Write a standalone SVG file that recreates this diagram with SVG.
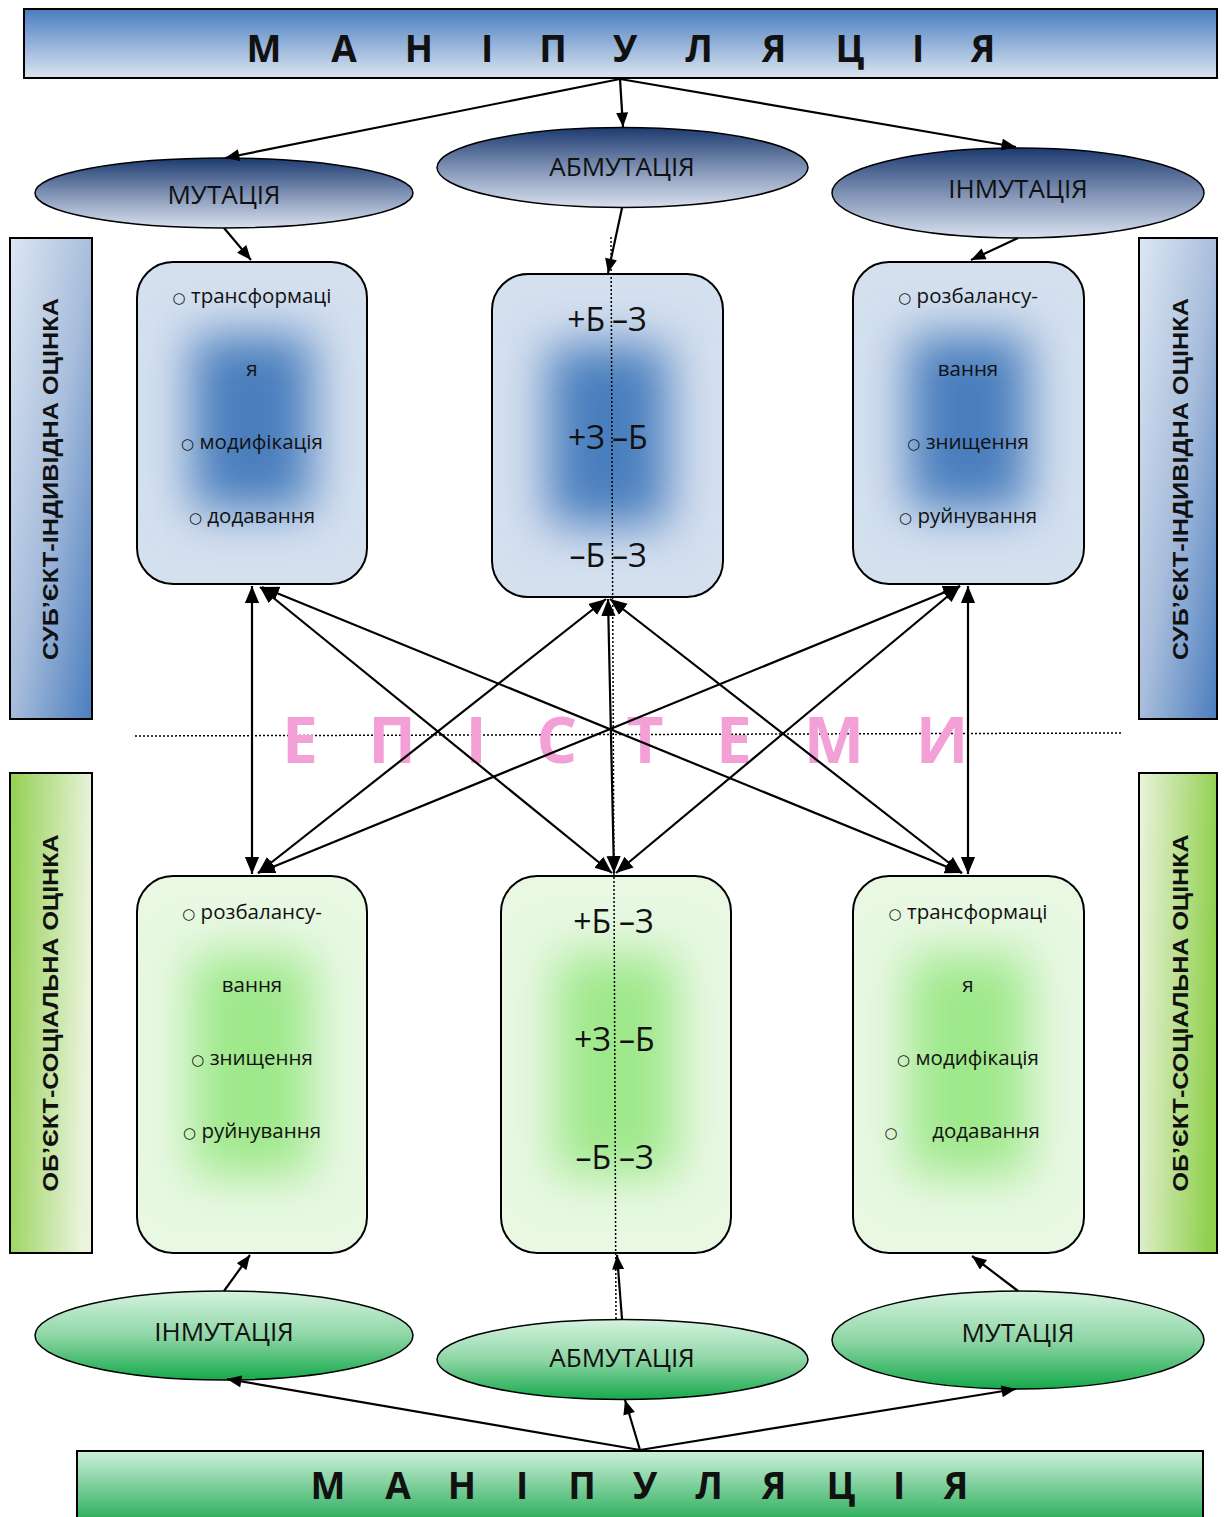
<svg xmlns="http://www.w3.org/2000/svg" width="1226" height="1517" viewBox="0 0 1226 1517">
<style>
.lbl{font-family:"Open Sans","Noto Sans","DejaVu Sans",sans-serif;font-size:26px;fill:#111;text-anchor:middle}
.ban{font-family:"Open Sans","Noto Sans","DejaVu Sans",sans-serif;font-size:37px;font-weight:bold;fill:#111;text-anchor:middle}
.itm{font-family:"Open Sans","Noto Sans","DejaVu Sans",sans-serif;font-size:20.5px;fill:#111;text-anchor:middle}
.bul{font-family:"DejaVu Sans",sans-serif;font-size:15px}
.pm{font-family:"Open Sans","Noto Sans","DejaVu Sans",sans-serif;font-size:32px;fill:#111}
.side{font-family:"Liberation Sans","Arial",sans-serif;font-size:22px;font-weight:bold;fill:#111;text-anchor:middle}
.epi{font-family:"Open Sans","Noto Sans","DejaVu Sans",sans-serif;font-size:64px;font-weight:bold;fill:#f2a0d6;text-anchor:middle}
.box{stroke:#000;stroke-width:2}
.ell{stroke:#000;stroke-width:1.5}
.edge{stroke:#000;stroke-width:2.2;fill:none}
.dot{stroke:#000;stroke-width:1.5;stroke-dasharray:2 2;fill:none}
</style>
<defs>
<linearGradient id="gBanTop" x1="0" y1="0" x2="0" y2="1"><stop offset="0" stop-color="#4a7dbf"/><stop offset="1" stop-color="#dbe5f1"/></linearGradient>
<linearGradient id="gBanBot" x1="0" y1="0" x2="0" y2="1"><stop offset="0" stop-color="#cdf0db"/><stop offset="1" stop-color="#13a447"/></linearGradient>
<linearGradient id="gEllTop" x1="0" y1="0" x2="0" y2="1"><stop offset="0" stop-color="#1c3a70"/><stop offset="0.5" stop-color="#7e91b3"/><stop offset="1" stop-color="#d8e0ee"/></linearGradient>
<linearGradient id="gEllBot" x1="0" y1="0" x2="0" y2="1"><stop offset="0" stop-color="#d4f3df"/><stop offset="0.5" stop-color="#8fd6a6"/><stop offset="1" stop-color="#15a94b"/></linearGradient>
<linearGradient id="gSideBlue" x1="0" y1="0" x2="1" y2="1"><stop offset="0" stop-color="#dde7f3"/><stop offset="0.5" stop-color="#a9bedc"/><stop offset="1" stop-color="#4a7dbe"/></linearGradient>
<linearGradient id="gSideGreenL" x1="0" y1="0" x2="1" y2="0.15"><stop offset="0" stop-color="#92d050"/><stop offset="1" stop-color="#eaf3dc"/></linearGradient>
<linearGradient id="gSideGreenR" x1="0" y1="0" x2="1" y2="0.15"><stop offset="0" stop-color="#eaf3dc"/><stop offset="1" stop-color="#92d050"/></linearGradient>
<filter id="blur" x="-100%" y="-100%" width="300%" height="300%"><feGaussianBlur stdDeviation="24"/></filter>
<clipPath id="cUL"><rect x="137" y="262" width="230" height="322" rx="36"/></clipPath>
<clipPath id="cUM"><rect x="492" y="274" width="231" height="323" rx="36"/></clipPath>
<clipPath id="cUR"><rect x="853" y="262" width="231" height="322" rx="36"/></clipPath>
<clipPath id="cLL"><rect x="137" y="876" width="230" height="377" rx="36"/></clipPath>
<clipPath id="cLM"><rect x="501" y="876" width="230" height="377" rx="36"/></clipPath>
<clipPath id="cLR"><rect x="853" y="876" width="231" height="377" rx="36"/></clipPath>
<marker id="ah" viewBox="0 0 12 10" refX="12" refY="5" markerWidth="15" markerHeight="12" markerUnits="userSpaceOnUse" orient="auto-start-reverse"><path d="M0,0 L12,5 L0,10 z" fill="#000"/></marker>
<marker id="ah2" viewBox="0 0 12 10" refX="12" refY="5" markerWidth="17" markerHeight="16" markerUnits="userSpaceOnUse" orient="auto-start-reverse"><path d="M0,0 L12,5 L0,10 z" fill="#000"/></marker>
</defs>
<rect width="1226" height="1517" fill="#fff"/>

<!-- side labels -->
<g id="side-subj-left">
<rect x="10" y="238" width="82" height="481" fill="url(#gSideBlue)" class="box"/>
<text class="side" transform="translate(58,479) rotate(-90)" textLength="362" lengthAdjust="spacingAndGlyphs">СУБ’ЄКТ-ІНДИВІДНА ОЦІНКА</text>
</g>
<g id="side-obj-left">
<rect x="10" y="773" width="82" height="480" fill="url(#gSideGreenL)" class="box"/>
<text class="side" transform="translate(58,1013) rotate(-90)" textLength="357" lengthAdjust="spacingAndGlyphs">ОБ’ЄКТ-СОЦІАЛЬНА ОЦІНКА</text>
</g>
<g id="side-subj-right">
<rect x="1139" y="238" width="78" height="481" fill="url(#gSideBlue)" class="box"/>
<text class="side" transform="translate(1188,479) rotate(-90)" textLength="362" lengthAdjust="spacingAndGlyphs">СУБ’ЄКТ-ІНДИВІДНА ОЦІНКА</text>
</g>
<g id="side-obj-right">
<rect x="1139" y="773" width="78" height="480" fill="url(#gSideGreenR)" class="box"/>
<text class="side" transform="translate(1188,1013) rotate(-90)" textLength="357" lengthAdjust="spacingAndGlyphs">ОБ’ЄКТ-СОЦІАЛЬНА ОЦІНКА</text>
</g>

<!-- banners -->
<g id="banner-top">
<rect x="24" y="9" width="1193" height="69" fill="url(#gBanTop)" class="box"/>
<text class="ban" x="264 344 419 487 553 625 699 774 850 918 983" y="62">МАНІПУЛЯЦІЯ</text>
</g>
<g id="banner-bottom">
<rect x="77" y="1451" width="1126" height="80" fill="url(#gBanBot)" class="box"/>
<text class="ban" x="328 398 462 522 582 645 709 774 841 899 956" y="1499">МАНІПУЛЯЦІЯ</text>
</g>

<!-- ellipses top -->
<g id="ell-top-mut"><ellipse cx="224" cy="193" rx="189" ry="35" fill="url(#gEllTop)" class="ell"/><text class="lbl" x="224" y="204">МУТАЦІЯ</text></g>
<g id="ell-top-abm"><ellipse cx="622.5" cy="167.5" rx="185.5" ry="40" fill="url(#gEllTop)" class="ell"/><text class="lbl" x="622" y="176">АБМУТАЦІЯ</text></g>
<g id="ell-top-inm"><ellipse cx="1018" cy="193" rx="186" ry="45" fill="url(#gEllTop)" class="ell"/><text class="lbl" x="1018" y="198">ІНМУТАЦІЯ</text></g>

<!-- ellipses bottom -->
<g id="ell-bot-inm"><ellipse cx="224" cy="1335.5" rx="189" ry="44.5" fill="url(#gEllBot)" class="ell"/><text class="lbl" x="224" y="1341">ІНМУТАЦІЯ</text></g>
<g id="ell-bot-abm"><ellipse cx="622.5" cy="1359.5" rx="185.5" ry="40" fill="url(#gEllBot)" class="ell"/><text class="lbl" x="622" y="1367">АБМУТАЦІЯ</text></g>
<g id="ell-bot-mut"><ellipse cx="1018" cy="1340" rx="186" ry="49" fill="url(#gEllBot)" class="ell"/><text class="lbl" x="1018" y="1342">МУТАЦІЯ</text></g>

<!-- upper boxes -->
<g id="box-up-left">
<rect x="137" y="262" width="230" height="322" rx="36" fill="#d5e0ef"/>
<rect x="192" y="335" width="120" height="175" fill="#4a7ebd" filter="url(#blur)" clip-path="url(#cUL)"/>
<rect x="137" y="262" width="230" height="322" rx="36" fill="none" class="box"/>
<text class="itm" x="252" y="303"><tspan class="bul">○</tspan> трансформаці</text>
<text class="itm" x="252" y="376">я</text>
<text class="itm" x="252" y="449"><tspan class="bul">○</tspan> модифікація</text>
<text class="itm" x="252" y="523"><tspan class="bul">○</tspan> додавання</text>
</g>
<g id="box-up-mid">
<rect x="492" y="274" width="231" height="323" rx="36" fill="#d5e0ef"/>
<rect x="548" y="345" width="120" height="180" fill="#4a7ebd" filter="url(#blur)" clip-path="url(#cUM)"/>
<rect x="492" y="274" width="231" height="323" rx="36" fill="none" class="box"/>
<text class="pm" x="605" y="331" text-anchor="end">+Б</text><text class="pm" x="612" y="331">–З</text>
<text class="pm" x="605" y="449" text-anchor="end">+З</text><text class="pm" x="612" y="449">–Б</text>
<text class="pm" x="605" y="567" text-anchor="end">–Б</text><text class="pm" x="612" y="567">–З</text>
</g>
<g id="box-up-right">
<rect x="853" y="262" width="231" height="322" rx="36" fill="#d5e0ef"/>
<rect x="908" y="335" width="120" height="175" fill="#4a7ebd" filter="url(#blur)" clip-path="url(#cUR)"/>
<rect x="853" y="262" width="231" height="322" rx="36" fill="none" class="box"/>
<text class="itm" x="968" y="303"><tspan class="bul">○</tspan> розбалансу-</text>
<text class="itm" x="968" y="376">вання</text>
<text class="itm" x="968" y="449"><tspan class="bul">○</tspan> знищення</text>
<text class="itm" x="968" y="523"><tspan class="bul">○</tspan> руйнування</text>
</g>

<!-- lower boxes -->
<g id="box-low-left">
<rect x="137" y="876" width="230" height="377" rx="36" fill="#e8f8e3"/>
<rect x="192" y="955" width="120" height="220" fill="#9ee88a" filter="url(#blur)" clip-path="url(#cLL)"/>
<rect x="137" y="876" width="230" height="377" rx="36" fill="none" class="box"/>
<text class="itm" x="252" y="919"><tspan class="bul">○</tspan> розбалансу-</text>
<text class="itm" x="252" y="992">вання</text>
<text class="itm" x="252" y="1065"><tspan class="bul">○</tspan> знищення</text>
<text class="itm" x="252" y="1138"><tspan class="bul">○</tspan> руйнування</text>
</g>
<g id="box-low-mid">
<rect x="501" y="876" width="230" height="377" rx="36" fill="#e8f8e3"/>
<rect x="556" y="955" width="120" height="220" fill="#9ee88a" filter="url(#blur)" clip-path="url(#cLM)"/>
<rect x="501" y="876" width="230" height="377" rx="36" fill="none" class="box"/>
<text class="pm" x="611" y="933" text-anchor="end">+Б</text><text class="pm" x="619" y="933">–З</text>
<text class="pm" x="611" y="1051" text-anchor="end">+З</text><text class="pm" x="619" y="1051">–Б</text>
<text class="pm" x="611" y="1169" text-anchor="end">–Б</text><text class="pm" x="619" y="1169">–З</text>
</g>
<g id="box-low-right">
<rect x="853" y="876" width="231" height="377" rx="36" fill="#e8f8e3"/>
<rect x="908" y="955" width="120" height="220" fill="#9ee88a" filter="url(#blur)" clip-path="url(#cLR)"/>
<rect x="853" y="876" width="231" height="377" rx="36" fill="none" class="box"/>
<text class="itm" x="968" y="919"><tspan class="bul">○</tspan> трансформаці</text>
<text class="itm" x="968" y="992">я</text>
<text class="itm" x="968" y="1065"><tspan class="bul">○</tspan> модифікація</text>
<text class="itm" x="891" y="1138"><tspan class="bul">○</tspan></text>
<text class="itm" x="986" y="1138">додавання</text>
</g>

<!-- episteme -->
<g id="episteme">
<path class="dot" d="M135,736 L1122,733"/>
<text class="epi" x="300 392 476 557 645 734 834 942" y="763">ЕПІСТЕМИ</text>
</g>

<!-- connectors -->
<g id="connectors">
<path class="dot" d="M611,237 L616,1320"/>
<path class="edge" marker-end="url(#ah)" d="M620,79 L225,158"/>
<path class="edge" marker-end="url(#ah)" d="M620,79 L623,127"/>
<path class="edge" marker-end="url(#ah)" d="M620,79 L1016,147"/>
<path class="edge" marker-end="url(#ah)" d="M224,228 L251,260"/>
<path class="edge" marker-end="url(#ah)" d="M622,208 L608,273"/>
<path class="edge" marker-end="url(#ah)" d="M1018,238 L971,260"/>
<path class="edge" marker-end="url(#ah)" d="M224,1291 L250,1255"/>
<path class="edge" marker-end="url(#ah)" d="M622,1319 L617,1255"/>
<path class="edge" marker-end="url(#ah)" d="M1018,1291 L972,1256"/>
<path class="edge" marker-end="url(#ah)" d="M640,1450 L227,1379"/>
<path class="edge" marker-end="url(#ah)" d="M640,1450 L625,1400"/>
<path class="edge" marker-end="url(#ah)" d="M640,1450 L1016,1389"/>
<path class="edge" marker-start="url(#ah2)" marker-end="url(#ah2)" d="M252,586 L252,874"/>
<path class="edge" marker-start="url(#ah2)" marker-end="url(#ah2)" d="M260,587 L612,873"/>
<path class="edge" marker-start="url(#ah2)" marker-end="url(#ah2)" d="M262,587 L962,873"/>
<path class="edge" marker-start="url(#ah2)" marker-end="url(#ah2)" d="M606,599 L258,873"/>
<path class="edge" marker-start="url(#ah2)" marker-end="url(#ah2)" d="M608,599 L614,873"/>
<path class="edge" marker-start="url(#ah2)" marker-end="url(#ah2)" d="M610,599 L962,873"/>
<path class="edge" marker-start="url(#ah2)" marker-end="url(#ah2)" d="M960,586 L258,873"/>
<path class="edge" marker-start="url(#ah2)" marker-end="url(#ah2)" d="M960,586 L616,873"/>
<path class="edge" marker-start="url(#ah2)" marker-end="url(#ah2)" d="M968,586 L968,874"/>
</g>
</svg>
